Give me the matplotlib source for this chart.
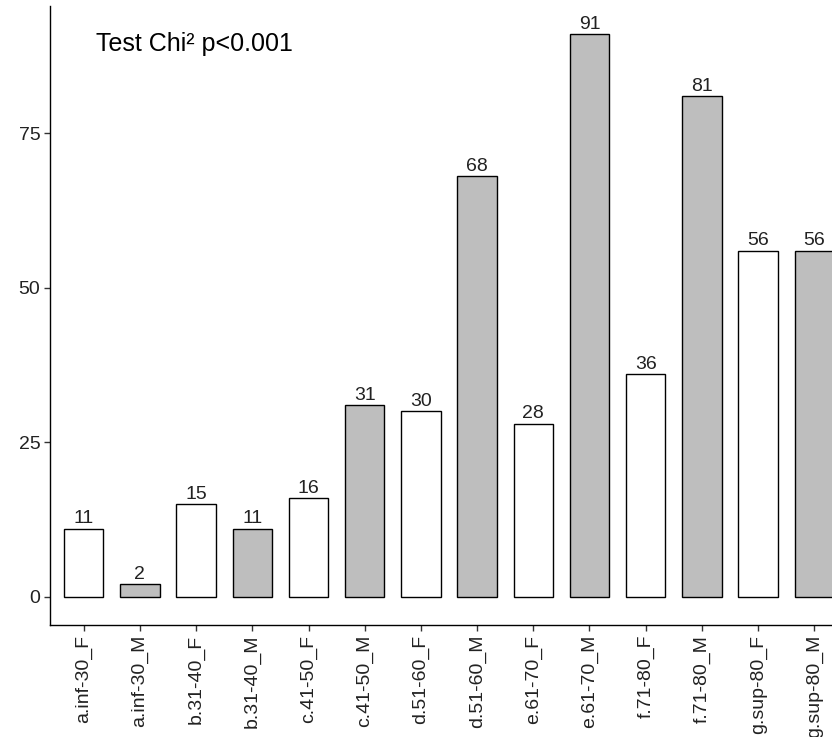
import matplotlib
matplotlib.use("Agg")
import matplotlib.pyplot as plt

groups = ["a.inf-30_F", "a.inf-30_M", "b.31-40_F", "b.31-40_M", "c.41-50_F",
          "c.41-50_M", "d.51-60_F", "d.51-60_M", "e.61-70_F", "e.61-70_M",
          "f.71-80_F", "f.71-80_M", "g.sup-80_F", "g.sup-80_M"]
counts = [11, 2, 15, 11, 16, 31, 30, 68, 28, 91, 36, 81, 56, 56]
fills = ["white", "#BEBEBE", "white", "#BEBEBE", "white", "#BEBEBE", "white",
         "#BEBEBE", "white", "#BEBEBE", "white", "#BEBEBE", "white", "#BEBEBE"]
yticks = [0, 25, 50, 75]

plt.rcParams["font.family"] = ["Liberation Sans", "DejaVu Sans"]

W, H = 832, 737
fig = plt.figure(figsize=(W / 100, H / 100), dpi=100)
# axes runs past the right edge, like the cropped original
left, right, bottom, top = 50, 848, 625, 6
ax = fig.add_axes([left / W, (H - bottom) / H, (right - left) / W, (bottom - top) / H])

x = list(range(1, len(groups) + 1))
ax.bar(x, counts, width=0.7, color=fills, edgecolor="black", linewidth=1.0, zorder=2)
for xi, c in zip(x, counts):
    ax.annotate(str(c), (xi, c), xytext=(0, 1), textcoords="offset points",
                ha="center", va="bottom", fontsize=14, color="#222222")

ax.set_xlim(0.4, 14.6)
ax.set_ylim(-4.55, 95.55)
ax.set_xticks(x)
ax.set_xticklabels(groups, rotation=90, fontsize=14, color="#222222")
ax.set_yticks(yticks)
ax.set_yticklabels([str(t) for t in yticks], fontsize=14, color="#222222")
ax.tick_params(length=4, width=1, color="#333333", pad=3)

for s in ["top", "right"]:
    ax.spines[s].set_visible(False)
for s in ["left", "bottom"]:
    ax.spines[s].set_linewidth(1.0)
    ax.spines[s].set_color("black")

ax.text(1.22, 89.4, "Test Chi\u00b2 p<0.001", ha="left", va="center",
        fontsize=18, color="black")

fig.savefig("out.png", dpi=100)
